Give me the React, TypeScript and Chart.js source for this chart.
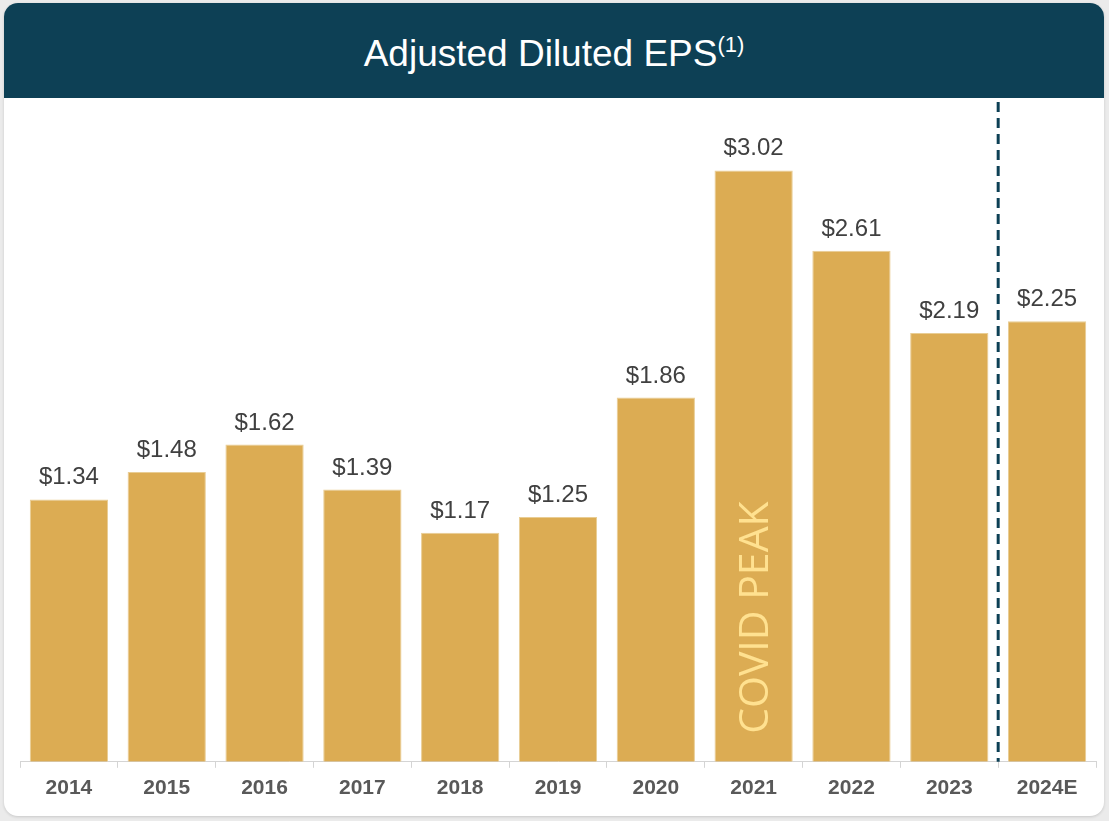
import React, { useEffect, useRef } from "react";
import { Chart, registerables } from "chart.js";

Chart.register(...registerables);

const categories = ["2014", "2015", "2016", "2017", "2018", "2019", "2020", "2021", "2022", "2023", "2024E"];
const epsValues = [1.34, 1.48, 1.62, 1.39, 1.17, 1.25, 1.86, 3.02, 2.61, 2.19, 2.25];
const valueLabels = ["$1.34", "$1.48", "$1.62", "$1.39", "$1.17", "$1.25", "$1.86", "$3.02", "$2.61", "$2.19", "$2.25"];
const annotationText = "COVID PEAK";
const annotationIndex = 7;
const dividerAfterIndex = 9;

const BAR = "#dcac53";
const NAVY = "#0d4055";

const overlayPlugin = {
  id: "overlay",
  afterDatasetsDraw(chart: any) {
    const { ctx, chartArea } = chart;
    const meta = chart.getDatasetMeta(0);
    const xScale = chart.scales.x;
    ctx.save();
    ctx.font = "24px 'Liberation Sans', Arial, sans-serif";
    ctx.fillStyle = "#404040";
    ctx.textAlign = "center";
    ctx.textBaseline = "alphabetic";
    meta.data.forEach((bar: any, i: number) => {
      ctx.fillText(valueLabels[i], bar.x, bar.y - 15);
    });
    const b = meta.data[annotationIndex];
    const fs = 41;
    ctx.font = `${fs}px 'Open Sans', sans-serif`;
    ctx.fillStyle = "#ffe190";
    ctx.translate(b.x + fs * 0.714 / 2, chartArea.bottom - 28);
    ctx.rotate(-Math.PI / 2);
    ctx.textAlign = "left";
    ctx.fillText(annotationText, 0, 0);
    ctx.restore();
    ctx.save();
    const xd = (xScale.getPixelForValue(dividerAfterIndex) + xScale.getPixelForValue(dividerAfterIndex + 1)) / 2;
    ctx.strokeStyle = NAVY;
    ctx.lineWidth = 3;
    ctx.setLineDash([10, 6]);
    ctx.beginPath();
    ctx.moveTo(xd, chartArea.top + 4);
    ctx.lineTo(xd, chartArea.bottom);
    ctx.stroke();
    ctx.restore();
  },
};

export default function App() {
  const ref = useRef<HTMLCanvasElement>(null);
  useEffect(() => {
    if (!ref.current) return;
    const chart = new Chart(ref.current, {
      type: "bar",
      data: {
        labels: categories,
        datasets: [
          {
            data: epsValues,
            backgroundColor: BAR,
            borderColor: "#e9cd94",
            borderWidth: 1,
            categoryPercentage: 0.8,
            barPercentage: 1,
          },
        ],
      },
      options: {
        animation: false,
        responsive: false,
        maintainAspectRatio: false,
        layout: { padding: { left: 16, right: 8, top: 0, bottom: 7 } },
        plugins: { legend: { display: false }, tooltip: { enabled: false }, title: { display: false } },
        scales: {
          x: {
            border: { display: true, color: "#d4d4d4", width: 1 },
            grid: { display: true, drawOnChartArea: false, drawTicks: true, tickLength: 6, color: "#d4d4d4", offset: true },
            ticks: { color: "#595959", font: { family: "'Liberation Sans', Arial, sans-serif", size: 21, weight: "bold" }, padding: 8 },
          },
          y: { display: false, min: 0, max: 3.39 },
        },
      },
      plugins: [overlayPlugin],
    });
    return () => chart.destroy();
  }, []);

  return (
    <div style={{ position: "fixed", left: 0, top: 0, width: 1109, height: 821, background: "#ebebeb", overflow: "hidden" }}>
      <div
        style={{
          position: "absolute",
          left: 4,
          top: 3,
          width: 1100,
          height: 813,
          background: "#ffffff",
          borderRadius: 14,
          overflow: "hidden",
          boxShadow: "0 1px 3px rgba(0,0,0,0.15)",
        }}
      >
        <div
          style={{
            position: "absolute",
            left: 0,
            top: 0,
            width: 1100,
            height: 95,
            background: NAVY,
            color: "#ffffff",
            fontFamily: "'Liberation Sans', Arial, sans-serif",
            fontSize: 37,
            display: "flex",
            alignItems: "center",
            justifyContent: "center",
          }}
        >
          <span style={{ position: "relative", top: 3, whiteSpace: "nowrap" }}>
            Adjusted Diluted EPS
            <span style={{ fontSize: 22, position: "relative", top: -14 }}>(1)</span>
          </span>
        </div>
        <canvas ref={ref} width={1100} height={718} style={{ position: "absolute", left: 0, top: 95, width: 1100, height: 718 }} />
      </div>
    </div>
  );
}
